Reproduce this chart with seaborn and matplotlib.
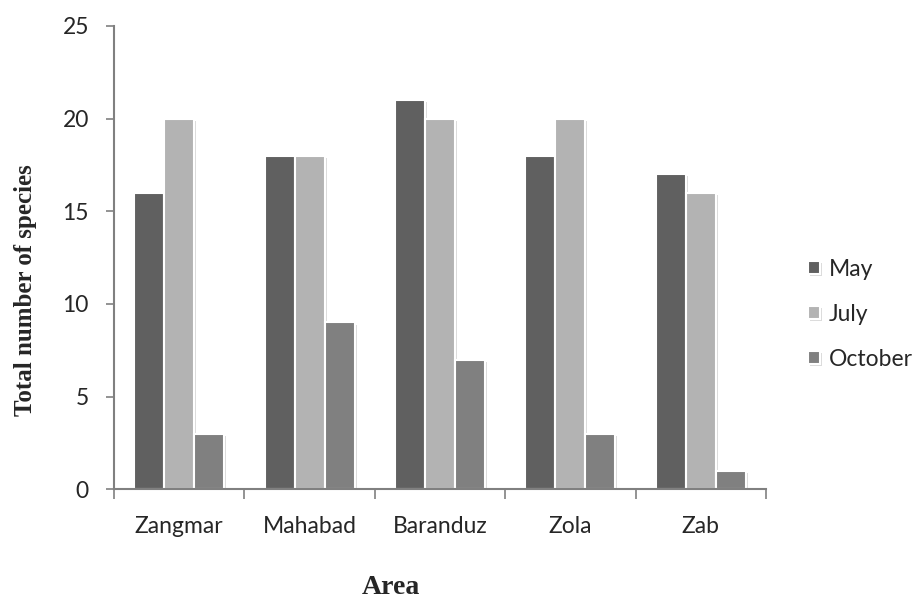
import matplotlib
matplotlib.use("Agg")
import matplotlib.pyplot as plt
import matplotlib.patheffects as pe
from matplotlib.ticker import FixedLocator
import seaborn as sns
import pandas as pd

areas = ["Zangmar", "Mahabad", "Baranduz", "Zola", "Zab"]
months = ["May", "July", "October"]
may = [16, 18, 21, 18, 17]
july = [20, 18, 20, 20, 16]
october = [3, 9, 7, 3, 1]
colors = ["#606060", "#b3b3b3", "#808080"]

rows = []
for m, vals in zip(months, [may, july, october]):
    for a, v in zip(areas, vals):
        rows.append({"Area": a, "Month": m, "Value": v})
df = pd.DataFrame(rows)

sns.set_style("white")
plt.rcParams["font.family"] = ["Lato", "DejaVu Sans"]

fig = plt.figure(figsize=(9.19, 6.04), dpi=100)
ax = fig.add_axes([0.124, 0.190, 0.7095, 0.767])

sns.barplot(data=df, x="Area", y="Value", hue="Month", order=areas,
            hue_order=months, palette=colors, width=0.69,
            edgecolor="white", linewidth=1.5, ax=ax, legend=True)

for p in ax.patches:
    p.set_path_effects([pe.SimplePatchShadow(offset=(1.5, -1.5), shadow_rgbFace="#999999", alpha=0.35), pe.Normal()])

ax.set_ylim(0, 25)
ax.set_xlim(-0.5, 4.5)
ax.set_yticks([0, 5, 10, 15, 20, 25])
ax.tick_params(axis="y", which="major", direction="out", length=6, width=1.2,
               color="#808080", labelsize=16.5, left=True, pad=12)
ax.tick_params(axis="x", which="major", length=0, labelsize=16.5, pad=19)
ax.xaxis.set_minor_locator(FixedLocator([-0.5, 0.5, 1.5, 2.5, 3.5, 4.5]))
ax.tick_params(axis="x", which="minor", direction="out", length=7, width=1.2,
               color="#808080", bottom=True)

for s in ["top", "right"]:
    ax.spines[s].set_visible(False)
for s in ["left", "bottom"]:
    ax.spines[s].set_color("#808080")
    ax.spines[s].set_linewidth(1.5)

ax.set_ylabel("Total number of species", family="Liberation Serif",
              fontweight="bold", fontsize=18)
ax.yaxis.set_label_coords(-0.135, 0.43)
ax.yaxis.label.set_va("center")
ax.yaxis.label.set_ha("center")
ax.set_xlabel("Area", family="Liberation Serif", fontweight="bold",
              fontsize=20)
ax.xaxis.set_label_coords(0.425, -0.212)
ax.xaxis.label.set_va("center")

leg = ax.legend(loc="center left", bbox_to_anchor=(1.064, 0.378), frameon=False,
                fontsize=16.5, handlelength=0.52, handleheight=0.52,
                labelspacing=1.05, handletextpad=0.4, borderaxespad=0,
                borderpad=0)

fig.savefig("out.png", dpi=100)
